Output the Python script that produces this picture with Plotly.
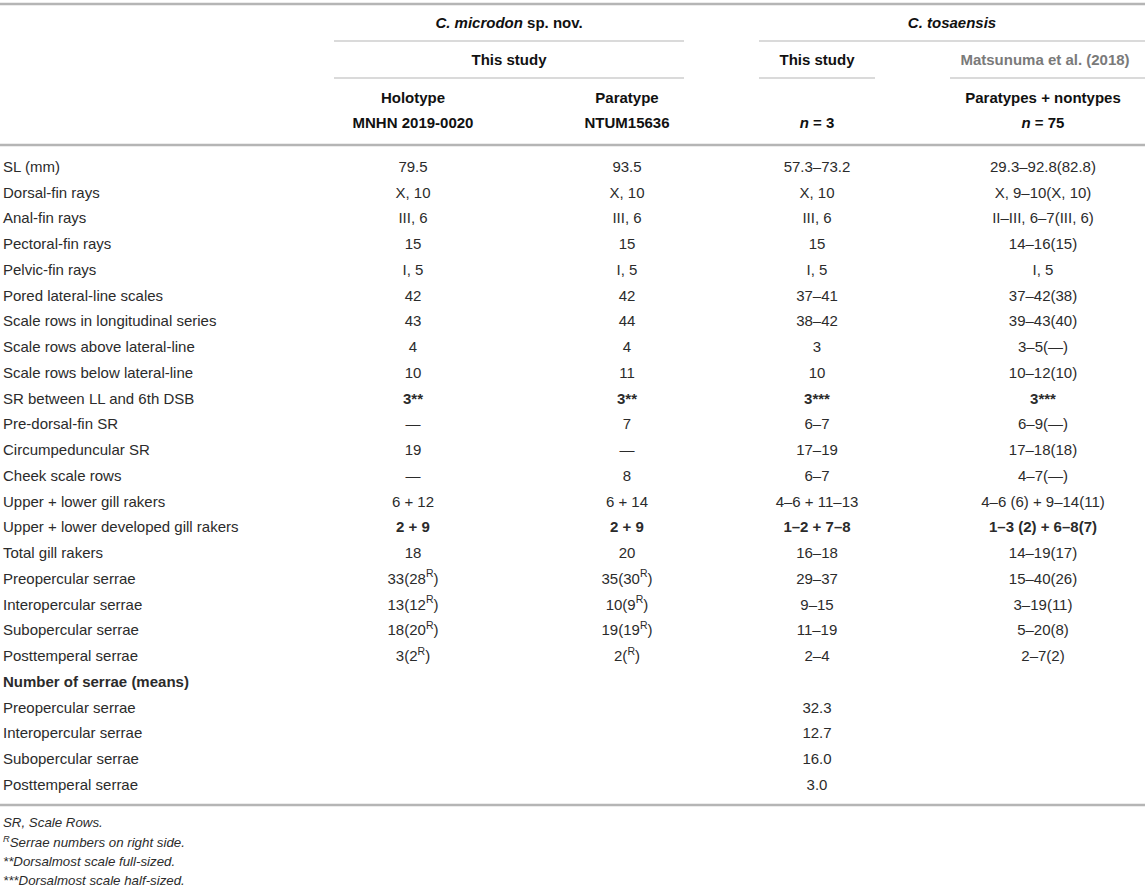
import plotly.graph_objects as go

# ---------------- data ----------------
row_labels = [
    "SL (mm)", "Dorsal-fin rays", "Anal-fin rays", "Pectoral-fin rays", "Pelvic-fin rays",
    "Pored lateral-line scales", "Scale rows in longitudinal series",
    "Scale rows above lateral-line", "Scale rows below lateral-line",
    "SR between LL and 6th DSB", "Pre-dorsal-fin SR", "Circumpeduncular SR",
    "Cheek scale rows", "Upper + lower gill rakers", "Upper + lower developed gill rakers",
    "Total gill rakers", "Preopercular serrae", "Interopercular serrae",
    "Subopercular serrae", "Posttemperal serrae",
    "<b>Number of serrae (means)</b>",
    "Preopercular serrae", "Interopercular serrae", "Subopercular serrae", "Posttemperal serrae",
]
holotype = [
    "79.5", "X, 10", "III, 6", "15", "I, 5", "42", "43", "4", "10", "<b>3**</b>",
    "—", "19", "—", "6 + 12", "<b>2 + 9</b>", "18",
    "33(28<sup>R</sup>)", "13(12<sup>R</sup>)", "18(20<sup>R</sup>)", "3(2<sup>R</sup>)",
    "", "", "", "", "",
]
paratype = [
    "93.5", "X, 10", "III, 6", "15", "I, 5", "42", "44", "4", "11", "<b>3**</b>",
    "7", "—", "8", "6 + 14", "<b>2 + 9</b>", "20",
    "35(30<sup>R</sup>)", "10(9<sup>R</sup>)", "19(19<sup>R</sup>)", "2(<sup>R</sup>)",
    "", "", "", "", "",
]
tosa_this_study = [
    "57.3–73.2", "X, 10", "III, 6", "15", "I, 5", "37–41", "38–42", "3", "10", "<b>3***</b>",
    "6–7", "17–19", "6–7", "4–6 + 11–13", "<b>1–2 + 7–8</b>", "16–18",
    "29–37", "9–15", "11–19", "2–4",
    "", "32.3", "12.7", "16.0", "3.0",
]
tosa_matsunuma = [
    "29.3–92.8(82.8)", "X, 9–10(X, 10)", "II–III, 6–7(III, 6)", "14–16(15)", "I, 5",
    "37–42(38)", "39–43(40)", "3–5(—)", "10–12(10)", "<b>3***</b>",
    "6–9(—)", "17–18(18)", "4–7(—)", "4–6 (6) + 9–14(11)", "<b>1–3 (2) + 6–8(7)</b>", "14–19(17)",
    "15–40(26)", "3–19(11)", "5–20(8)", "2–7(2)",
    "", "", "", "", "",
]
header_species = ["<i>C. microdon</i> sp. nov.", "<i>C. tosaensis</i>"]
header_source = ["This study", "This study", "Matsunuma et al. (2018)"]
header_type = ["Holotype", "Paratype", "", "Paratypes + nontypes"]
header_id = ["MNHN 2019-0020", "NTUM15636", "<i>n</i> = 3", "<i>n</i> = 75"]
footnotes = [
    "<i>SR, Scale Rows.</i>",
    "<sup><i>R</i></sup><i>Serrae numbers on right side.</i>",
    "<i>**Dorsalmost scale full-sized.</i>",
    "<i>***Dorsalmost scale half-sized.</i>",
]

# ---------------- layout constants ----------------
W, H = 1145, 892
FONT = "Liberation Sans, Arial, Helvetica, sans-serif"
BODY = "#2b2b2b"
HEAD = "#111111"
RULE = "#b5b5b5"
FS = 15
col_x = [413, 627, 817, 1043]
label_x = 3
row_y0, row_dy = 168, 25.75
row_y = [row_y0 + i * row_dy for i in range(len(row_labels))]

fig = go.Figure()

def text_trace(xs, ys, texts, size=FS, color=BODY, pos="middle center"):
    pts = [(x, y, t) for x, y, t in zip(xs, ys, texts) if t]
    if not pts:
        return
    fig.add_trace(go.Scatter(
        x=[p[0] for p in pts], y=[p[1] for p in pts], text=[p[2] for p in pts],
        mode="text", textposition=pos,
        textfont=dict(family=FONT, size=size, color=color),
        hoverinfo="skip", showlegend=False, cliponaxis=False,
    ))

# body
text_trace([label_x] * len(row_labels), row_y, row_labels, pos="middle right")
for cx, col in zip(col_x, [holotype, paratype, tosa_this_study, tosa_matsunuma]):
    text_trace([cx] * len(col), row_y, col)

# headers
text_trace([509, 952], [24, 24], ["<b>%s</b>" % t for t in header_species], color=HEAD)
text_trace([509, 817], [61, 61], ["<b>%s</b>" % t for t in header_source[:2]], color=HEAD)
text_trace([1045], [61], ["<b>%s</b>" % header_source[2]], color="#7a7a7a")
text_trace(col_x, [99] * 4, ["<b>%s</b>" % t if t else "" for t in header_type], color=HEAD)
text_trace(col_x, [124] * 4, ["<b>%s</b>" % t for t in header_id], color=HEAD)

# footnotes
text_trace([label_x] * 4, [824, 844, 863, 882], footnotes, size=13.3, color=BODY, pos="middle right")

# rules
def rule(x0, x1, y, w):
    fig.add_shape(type="line", x0=x0, x1=x1, y0=y, y1=y, xref="x", yref="y",
                  line=dict(color=RULE, width=w))

rule(0, W, 4, 2.5)
rule(334, 684, 41, 1.2)
rule(759, W, 41, 1.2)
rule(334, 684, 78, 1.2)
rule(759, 875, 78, 1.2)
rule(950, W, 78, 1.2)
rule(0, W, 145, 2.5)
rule(0, W, 805, 2.5)

fig.update_layout(
    width=W, height=H,
    margin=dict(l=0, r=0, t=0, b=0),
    paper_bgcolor="white", plot_bgcolor="white",
    xaxis=dict(range=[0, W], visible=False, fixedrange=True),
    yaxis=dict(range=[H, 0], visible=False, fixedrange=True),
    showlegend=False,
)
fig.write_html(
    "out.html",
    config={"displayModeBar": False},
    post_script="document.body.style.margin='0px';document.body.style.overflow='hidden';",
)
